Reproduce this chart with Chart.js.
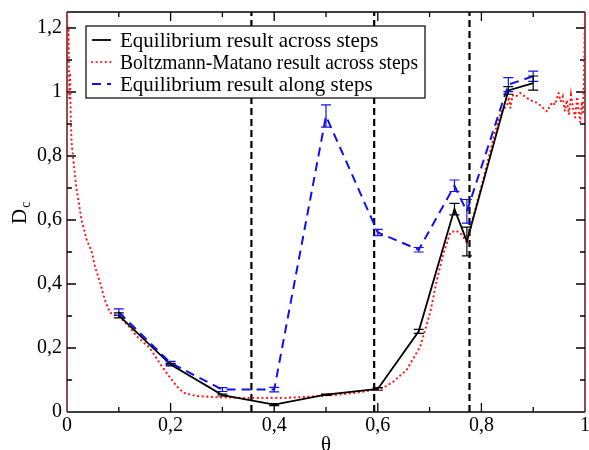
<!DOCTYPE html>
<html>
<head>
<meta charset="utf-8">
<script src="https://cdn.jsdelivr.net/npm/chart.js@4.4.0/dist/chart.umd.min.js"></script>
<style>
  html, body { margin: 0; padding: 0; background: #fff; }
</style>
</head>
<body>
<canvas id="chart" width="589" height="450"></canvas>
<script>
// Data
const theta = [0.1, 0.2, 0.3, 0.4, 0.5, 0.6, 0.679, 0.748, 0.772, 0.852, 0.9];
const acrossSteps = [0.302, 0.148, 0.053, 0.023, 0.054, 0.072, 0.252, 0.634, 0.533, 1.005, 1.028];
const acrossErr = [0.008, 0.004, 0.003, 0.003, 0.002, 0.004, 0.006, 0.018, 0.045, 0.012, 0.022];
const alongSteps = [0.312, 0.153, 0.07, 0.07, 0.925, 0.561, 0.507, 0.707, 0.627, 1.023, 1.049];
const alongErr = [0.01, 0.005, 0.006, 0.007, 0.035, 0.01, 0.007, 0.018, 0.037, 0.022, 0.016];

const bmTheta = [0, 0.0015, 0.003, 0.0045, 0.006, 0.0075, 0.009, 0.012, 0.015, 0.018, 0.022,
  0.028, 0.033, 0.038, 0.043, 0.048, 0.054, 0.064, 0.073, 0.083, 0.1, 0.118, 0.135, 0.16,
  0.18, 0.2, 0.212, 0.225, 0.25, 0.29, 0.35, 0.42, 0.48, 0.53, 0.57, 0.61, 0.63, 0.656,
  0.682, 0.701, 0.714, 0.727, 0.74, 0.75, 0.759, 0.769, 0.772, 0.776, 0.788, 0.805, 0.824,
  0.837, 0.845, 0.85, 0.853, 0.856, 0.86, 0.866, 0.875, 0.888, 0.898, 0.908, 0.918, 0.927,
  0.932, 0.937, 0.942, 0.949, 0.953, 0.957, 0.961, 0.965, 0.969, 0.973, 0.977, 0.981, 0.985,
  0.988, 0.991, 0.994, 0.996, 0.998, 0.999, 1.0];
const bmValues = [1.25, 1.12, 1.2, 0.98, 1.06, 0.9, 0.84, 0.79, 0.747, 0.7, 0.663,
  0.6, 0.57, 0.538, 0.52, 0.5, 0.455, 0.403, 0.351, 0.31, 0.3, 0.27, 0.236, 0.2,
  0.15, 0.105, 0.08, 0.06, 0.05, 0.046, 0.044, 0.044, 0.049, 0.055, 0.063, 0.075, 0.095, 0.132,
  0.205, 0.31, 0.413, 0.497, 0.56, 0.567, 0.56, 0.538, 0.528, 0.56, 0.632, 0.736, 0.861,
  0.934, 0.95, 0.96, 0.985, 0.95, 0.99, 0.985, 0.997, 0.981, 0.972, 0.966, 0.952, 0.939,
  0.955, 0.968, 0.96, 0.997, 0.97, 0.985, 0.94, 0.975, 0.93, 0.99, 0.95, 0.92, 0.985,
  0.94, 0.905, 0.97, 0.93, 1.05, 1.15, 1.25];

const stepEdges = [0.356, 0.593, 0.777];

const xTicks = [0, 0.2, 0.4, 0.6, 0.8, 1];
const xTickLabels = ['0', '0,2', '0,4', '0,6', '0,8', '1'];
const yTicks = [0, 0.2, 0.4, 0.6, 0.8, 1, 1.2];
const yTickLabels = ['0', '0,2', '0,4', '0,6', '0,8', '1', '1,2'];

const serif = '"Liberation Serif", "DejaVu Serif", serif';
const pts = (xs, ys) => xs.map((x, i) => ({ x: x, y: ys[i] }));

const datasets = [
  {
    label: 'Equilibrium result along steps',
    data: pts(theta, alongSteps),
    borderColor: '#1010f0', borderWidth: 2, borderDash: [9, 6],
    errors: alongErr
  },
  {
    label: 'Equilibrium result across steps',
    data: pts(theta, acrossSteps),
    borderColor: '#000', borderWidth: 1.8,
    errors: acrossErr
  },
  {
    label: 'Boltzmann-Matano result across steps',
    data: pts(bmTheta, bmValues),
    borderColor: '#ff1a1a', borderWidth: 2.2, borderDash: [0.1, 4.5], borderCapStyle: 'round'
  }
];
stepEdges.forEach(e => datasets.push({
  label: '', data: [{ x: e, y: 0 }, { x: e, y: 1.25 }],
  borderColor: '#000', borderWidth: 2.2, borderDash: [7, 4]
}));
datasets.forEach(d => { d.showLine = true; d.pointRadius = 0; d.fill = false; d.tension = 0; });

const legendOrder = [1, 2, 0];

const decor = {
  id: 'decor',
  beforeDatasetsDraw(chart) {
    const { ctx, chartArea: a, scales: { x, y } } = chart;
    ctx.save();
    // frame
    ctx.lineWidth = 1.5;
    ctx.strokeStyle = '#000';
    ctx.beginPath();
    ctx.moveTo(a.left, a.top); ctx.lineTo(a.right, a.top);
    ctx.moveTo(a.left, a.bottom); ctx.lineTo(a.right, a.bottom);
    ctx.stroke();
    ctx.strokeStyle = '#5c1a1a';
    ctx.beginPath();
    ctx.moveTo(a.left, a.top); ctx.lineTo(a.left, a.bottom);
    ctx.moveTo(a.right, a.top); ctx.lineTo(a.right, a.bottom);
    ctx.stroke();
    // inward ticks
    ctx.strokeStyle = '#000';
    ctx.lineWidth = 1.3;
    ctx.beginPath();
    for (let i = 1; i < 10; i++) {
      const v = i / 10, len = i % 2 === 0 ? 9 : 5, px = x.getPixelForValue(v);
      ctx.moveTo(px, a.bottom); ctx.lineTo(px, a.bottom - len);
      ctx.moveTo(px, a.top); ctx.lineTo(px, a.top + len);
    }
    for (let i = 1; i <= 12; i++) {
      const v = i / 10, len = i % 2 === 0 ? 9 : 5, py = y.getPixelForValue(v);
      ctx.moveTo(a.left, py); ctx.lineTo(a.left + len, py);
      ctx.moveTo(a.right, py); ctx.lineTo(a.right - len, py);
    }
    ctx.stroke();
    ctx.restore();
  },
  afterDatasetsDraw(chart) {
    const { ctx, scales: { x, y } } = chart;
    ctx.save();
    // error bars
    chart.data.datasets.forEach(d => {
      if (!d.errors) return;
      ctx.strokeStyle = d.borderColor;
      ctx.lineWidth = 1.2;
      ctx.beginPath();
      d.data.forEach((p, i) => {
        const px = x.getPixelForValue(p.x);
        const y1 = y.getPixelForValue(p.y + d.errors[i]);
        const y2 = y.getPixelForValue(p.y - d.errors[i]);
        ctx.moveTo(px, y1); ctx.lineTo(px, y2);
        ctx.moveTo(px - 5, y1); ctx.lineTo(px + 5, y1);
        ctx.moveTo(px - 5, y2); ctx.lineTo(px + 5, y2);
      });
      ctx.stroke();
    });
    // legend
    const bx = 86, by = 26, bw = 339, bh = 72;
    ctx.fillStyle = '#fff';
    ctx.fillRect(bx, by, bw, bh);
    ctx.strokeStyle = '#000';
    ctx.lineWidth = 1.2;
    ctx.strokeRect(bx, by, bw, bh);
    ctx.font = '21px ' + serif;
    ctx.textBaseline = 'middle';
    legendOrder.forEach((k, r) => {
      const d = chart.data.datasets[k];
      const cy = by + 14 + r * 22;
      ctx.strokeStyle = d.borderColor;
      ctx.lineWidth = d.borderWidth;
      ctx.lineCap = d.borderCapStyle || 'butt';
      ctx.setLineDash(d.borderDash || []);
      ctx.beginPath();
      ctx.moveTo(92, cy); ctx.lineTo(111, cy);
      ctx.stroke();
      ctx.setLineDash([]);
      ctx.lineCap = 'butt';
      ctx.fillStyle = '#000';
      ctx.fillText(d.label, 120, cy + 1, 298);
    });
    // axis titles
    ctx.font = '21px ' + serif;
    ctx.textAlign = 'center';
    ctx.textBaseline = 'alphabetic';
    ctx.fillText('θ', 326, 451);
    ctx.translate(26, 224);
    ctx.rotate(-Math.PI / 2);
    ctx.textAlign = 'left';
    ctx.fillText('D', 0, 0);
    const w = ctx.measureText('D').width;
    ctx.font = '14px ' + serif;
    ctx.fillText('c', w + 1, 4);
    ctx.restore();
  }
};

new Chart(document.getElementById('chart'), {
  type: 'scatter',
  data: { datasets: datasets },
  options: {
    responsive: false,
    devicePixelRatio: 1,
    animation: false,
    layout: { padding: { top: 12, right: 4, left: 0, bottom: 0 } },
    plugins: { legend: { display: false }, tooltip: { enabled: false } },
    scales: {
      x: {
        type: 'linear', min: 0, max: 1,
        grid: { display: false, drawTicks: false, tickLength: 0 },
        border: { display: false },
        afterBuildTicks: s => { s.ticks = xTicks.map(v => ({ value: v })); },
        afterFit: s => { s.height = 38; s.paddingLeft = 0; s.paddingRight = 0; },
        ticks: {
          padding: 2, color: '#000', maxRotation: 0, autoSkip: false,
          font: { family: serif, size: 20 },
          callback: v => xTickLabels[xTicks.indexOf(v)]
        }
      },
      y: {
        type: 'linear', min: 0, max: 1.25,
        grid: { display: false, drawTicks: false, tickLength: 0 },
        border: { display: false },
        afterBuildTicks: s => { s.ticks = yTicks.map(v => ({ value: v })); },
        afterFit: s => { s.width = 67; s.paddingTop = 0; s.paddingBottom = 0; },
        ticks: {
          padding: 5, color: '#000', autoSkip: false,
          font: { family: serif, size: 20 },
          callback: v => yTickLabels[yTicks.indexOf(v)]
        }
      }
    }
  },
  plugins: [decor]
});
</script>
</body>
</html>
